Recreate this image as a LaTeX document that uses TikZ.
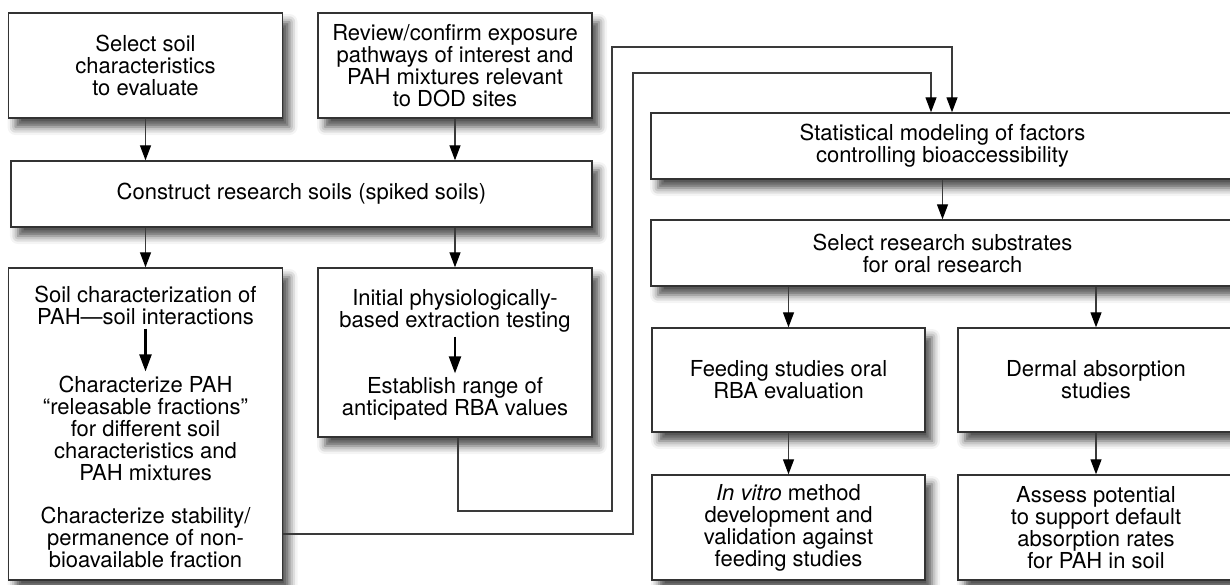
\documentclass[tikz,border=0pt]{standalone}
\usepackage{fontspec}
\setmainfont{TeX Gyre Heros}
\usepackage{xcolor}
\usetikzlibrary{arrows.meta,shadows.blur}
\definecolor{boxgray}{HTML}{333333}
\definecolor{linegray}{HTML}{3A3A3A}
\newcommand{\boxfont}{\fontsize{22}{22}\selectfont}
\tikzset{
  every picture/.style={line join=miter, >={Triangle[length=15pt,width=11pt,color=black]}},
  box/.style={draw=boxgray, line width=1.4pt, fill=white, align=center, inner sep=0pt, font=\boxfont,
    blur shadow={shadow xshift=7pt, shadow yshift=-9pt, shadow blur radius=8pt, shadow opacity=70}},
  halfbox/.style={box, minimum width=274pt},
  widebox/.style={box, minimum width=583pt, minimum height=66pt},
  subtext/.style={align=center, inner sep=4pt, font=\boxfont},
  link/.style={draw=linegray, line width=1.3pt, ->},
  inlink/.style={draw=black, line width=2.2pt, -{Triangle[length=17pt,width=12pt]}},
}

\begin{document}
\begin{tikzpicture}[x=1pt,y=-1pt]
\useasboundingbox (0,0) rectangle (1230,584);
\clip (0,0) rectangle (1230,584);
% left column
\node[halfbox, minimum height=105pt] (select) at (145.5,65.5) {Select soil\\characteristics\\to evaluate};
\node[halfbox, minimum height=105pt] (review) at (455,65.5) {Review/confirm exposure\\pathways of interest and\\PAH mixtures relevant\\to DOD sites};
\node[box, minimum width=581pt, minimum height=66pt] (construct) at (301.5,194) {Construct research soils (spiked soils)};
\node[halfbox, minimum height=312pt] (soilchar) at (145.5,424) {};
\node[halfbox, minimum height=169pt] (initial) at (455,352.5) {};
\node[subtext] (soilchar1) at (145.5,305) {Soil characterization of\\PAH—soil interactions};
\node[subtext] (soilchar2) at (145.5,428) {Characterize PAH\\“releasable fractions”\\for different soil\\characteristics and\\PAH mixtures};
\node[subtext] (soilchar3) at (145.5,537) {Characterize stability/\\permanence of non-\\bioavailable fraction};
\node[subtext] (initial1) at (455,311) {Initial physiologically-\\based extraction testing};
\node[subtext] (initial2) at (455,399) {Establish range of\\anticipated RBA values};
% right column
\node[widebox] (stats) at (942.5,146) {Statistical modeling of factors\\controlling bioaccessibility};
\node[widebox] (substr) at (942.5,253) {Select research substrates\\for oral research};
\node[box, minimum width=273pt, minimum height=104pt] (feeding) at (788.5,380) {Feeding studies oral\\RBA evaluation};
\node[box, minimum width=276pt, minimum height=104pt] (dermal) at (1096,380) {Dermal absorption\\studies};
\node[box, minimum width=273pt, minimum height=105pt] (invitro) at (788.5,527.5) {\textit{In vitro} method\\development and\\validation against\\feeding studies};
\node[box, minimum width=276pt, minimum height=105pt] (assess) at (1096,527.5) {Assess potential\\to support default\\absorption rates\\for PAH in soil};
\coordinate (initbend) at (612,511);
\coordinate (inittop) at (952,47);
\coordinate (soilbend) at (633,534);
\coordinate (soiltop) at (931,73);
\draw[link] (select.south) -- (select.south |- construct.north);
\draw[link] (review.south) -- (review.south |- construct.north);
\draw[link] (soilchar.north |- construct.south) -- (soilchar.north);
\draw[link] (initial.north |- construct.south) -- (initial.north);
\draw[inlink] (soilchar1) -- (soilchar2);
\draw[inlink] (initial1) -- (initial2);
\draw[link] ([xshift=3pt]initial.south) |- (initbend) |- (inittop) -- (inittop |- stats.north);
\draw[link] (soilchar.east |- soilbend) -- (soilbend) |- (soiltop) -- (soiltop |- stats.north);
\draw[link] (stats) -- (substr);
\draw[link] (feeding.north |- substr.south) -- (feeding.north);
\draw[link] (dermal.north |- substr.south) -- (dermal.north);
\draw[link] (feeding) -- (invitro);
\draw[link] (dermal) -- (assess);
\end{tikzpicture}
\end{document}
